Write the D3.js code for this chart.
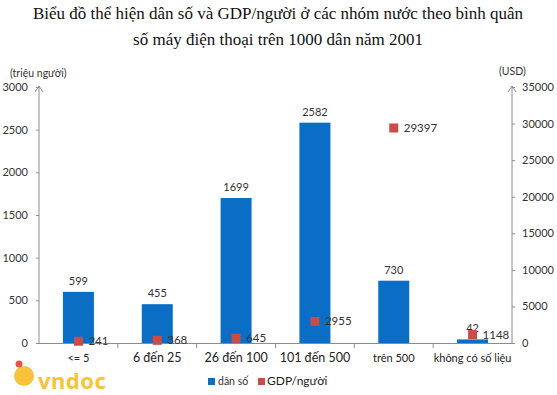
<!DOCTYPE html>
<html><head><meta charset="utf-8">
<script src="https://cdn.jsdelivr.net/npm/d3@7"></script>
<style>body{margin:0;background:#fff}</style>
</head><body>
<svg id="c" width="557" height="395"></svg>
<script>
const categories = ["<= 5","6 đến 25","26 đến 100","101 đến 500","trên 500","không có số liệu"];
const population = [599,455,1699,2582,730,42];
const gdp = [241,368,645,2955,29397,1148];
const leftTicks = [0,500,1000,1500,2000,2500,3000];
const rightTicks = [0,5000,10000,15000,20000,25000,30000,35000];

const svg = d3.select("#c");
const L = 39, R = 512, T = 87, B = 343;
const x = d3.scaleBand().domain(categories).range([L,R]);
const yL = d3.scaleLinear().domain([0,3000]).range([B,T]);
const yR = d3.scaleLinear().domain([0,35000]).range([B,T]);
const font = "Lato, 'Open Sans', sans-serif";
const axisCol = "#8c8c8c";

// title
svg.append("text").attr("x",278).attr("y",19).attr("text-anchor","middle")
  .attr("font-family","'Liberation Serif', 'Times New Roman', serif").attr("font-size",17).attr("fill","#111")
  .text("Biểu đồ thể hiện dân số và GDP/người ở các nhóm nước theo bình quân");
svg.append("text").attr("x",278).attr("y",45).attr("text-anchor","middle")
  .attr("font-family","'Liberation Serif', 'Times New Roman', serif").attr("font-size",17).attr("fill","#111")
  .text("số máy điện thoại trên 1000 dân năm 2001");

svg.append("text").attr("x",10).attr("y",77).attr("font-family",font).attr("font-size",10.5).attr("fill","#333").text("(triệu người)");
svg.append("text").attr("x",499).attr("y",75).attr("font-family",font).attr("font-size",10.5).attr("fill","#333").text("(USD)");

// watermark (behind)
svg.append("text").attr("x",38).attr("y",389).attr("font-family","'Noto Sans', sans-serif").attr("font-weight","bold")
  .attr("font-size",22).attr("fill","#f8c23a").attr("letter-spacing",0.5).text("vndoc");
svg.append("circle").attr("cx",24).attr("cy",376).attr("r",10).attr("fill","#f8c23a");
svg.append("circle").attr("cx",19).attr("cy",364).attr("r",3.5).attr("fill","#e0574a");

// bars
const bw = 31;
svg.selectAll("rect.bar").data(categories).join("rect").attr("class","bar")
  .attr("x",(d)=>x(d)+x.bandwidth()/2-bw/2)
  .attr("width",bw)
  .attr("y",(d,i)=>yL(population[i]))
  .attr("height",(d,i)=>B-yL(population[i]))
  .attr("fill","#0a6fc4");
svg.selectAll("text.pl").data(categories).join("text").attr("class","pl")
  .attr("x",(d)=>x(d)+x.bandwidth()/2)
  .attr("y",(d,i)=>yL(population[i])-7)
  .attr("text-anchor","middle").attr("font-family",font).attr("font-size",11).attr("fill","#333")
  .text((d,i)=>population[i]);

// left axis
const gl = svg.append("g").attr("transform",`translate(${L},0)`)
  .call(d3.axisLeft(yL).tickValues(leftTicks).tickFormat(d3.format("d")).tickSize(3).tickPadding(8));
gl.select(".domain").attr("stroke",axisCol).attr("d",`M0,${B}V${T-1}`);
gl.selectAll(".tick line").attr("stroke",axisCol);
gl.selectAll(".tick text").attr("font-family",font).attr("font-size",11).attr("fill","#333");
// right axis
const gr = svg.append("g").attr("transform",`translate(${R},0)`)
  .call(d3.axisRight(yR).tickValues(rightTicks).tickFormat(d3.format("d")).tickSize(3).tickPadding(7));
gr.select(".domain").attr("stroke",axisCol).attr("d",`M0,${B}V${T-1}`);
gr.selectAll(".tick line").attr("stroke",axisCol);
gr.selectAll(".tick text").attr("font-family",font).attr("font-size",11).attr("fill","#333");
// arrows
[L,R].forEach(ax=>{
  svg.append("path").attr("d",`M${ax-4},${T+5}L${ax},${T-1}L${ax+4},${T+5}`)
    .attr("fill","none").attr("stroke",axisCol).attr("stroke-width",1);
});

// x axis
svg.append("line").attr("x1",L).attr("x2",R).attr("y1",B+0.5).attr("y2",B+0.5).attr("stroke",axisCol);
categories.slice(1).forEach(c=>{
  svg.append("line").attr("x1",x(c)).attr("x2",x(c)).attr("y1",B).attr("y2",B+5).attr("stroke",axisCol);
});
svg.selectAll("text.xl").data(categories).join("text").attr("class","xl")
  .attr("x",d=>x(d)+x.bandwidth()/2).attr("y",B+19).attr("text-anchor","middle")
  .attr("font-family",font).attr("font-size",(d,i)=>(i>=1&&i<=3)?12.5:11).attr("fill","#222").text(d=>d);

// GDP markers
const ms = 9;
svg.selectAll("rect.m").data(categories).join("rect").attr("class","m")
  .attr("x",d=>x(d)+x.bandwidth()/2-ms/2)
  .attr("y",(d,i)=>yR(gdp[i])-ms/2)
  .attr("width",ms).attr("height",ms).attr("fill","#cc4b46");
svg.selectAll("text.gl").data(categories).join("text").attr("class","gl")
  .attr("x",d=>x(d)+x.bandwidth()/2+10)
  .attr("y",(d,i)=>yR(gdp[i])+4)
  .attr("font-family",font).attr("font-size",11.5).attr("fill","#333")
  .text((d,i)=>gdp[i]);

// legend
svg.append("rect").attr("x",208).attr("y",378).attr("width",7).attr("height",7).attr("fill","#0a6fc4");
svg.append("text").attr("x",218).attr("y",385).attr("font-family",font).attr("font-size",10.5).attr("fill","#333").text("dân số");
svg.append("rect").attr("x",258).attr("y",378).attr("width",7).attr("height",7).attr("fill","#cc4b46");
svg.append("text").attr("x",267).attr("y",385).attr("font-family",font).attr("font-size",12).attr("fill","#222").text("GDP/người");
</script>
</body></html>
